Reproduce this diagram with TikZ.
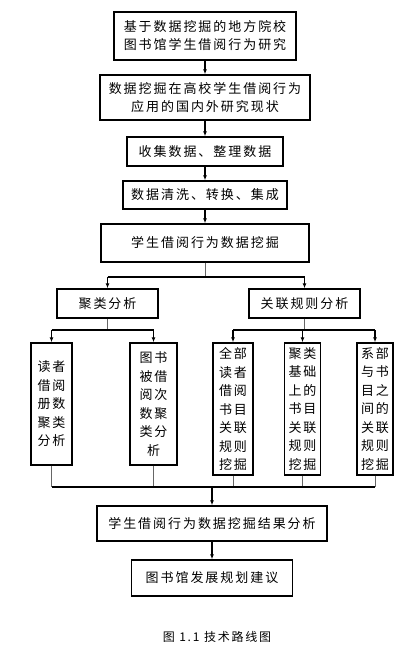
\documentclass[tikz,border=0pt]{standalone}
\usepackage{fontspec}
\newfontfamily\cjk[LetterSpace=15]{Noto Sans CJK SC}
\usepackage{tikz}
\usetikzlibrary{arrows.meta, positioning, calc}
\tikzset{
    rtbox/.style={rectangle, draw=black, line width=1.4pt, fill=white, inner sep=0pt, align=center, font=\cjk\fontsize{13}{18}\selectfont},
    rtcol/.style={rectangle, draw=black, line width=1.4pt, fill=white, inner sep=0pt, align=center, font=\cjk\fontsize{13}{18.5}\selectfont},
    rtarrow/.style={-{Latex[length=5pt,width=4pt]}, line width=1.1pt, draw=black},
    rtbar/.style={line width=1.5pt, draw=black},
    rtdrop/.style={line width=0.8pt, draw=black!60}
}

\begin{document}
\begin{tikzpicture}[x=1pt, y=-1pt]
    \useasboundingbox (0,0) rectangle (415,650);

    % Main chain
    \node[rtbox, minimum width=182pt, minimum height=48pt] (topic) at (205,36) {基于数据挖掘的地方院校\\图书馆学生借阅行为研究};
    \node[rtbox, minimum width=210pt, minimum height=45pt] (status) at (205,97.5) {数据挖掘在高校学生借阅行为\\应用的国内外研究现状};
    \node[rtbox, minimum width=156pt, minimum height=29pt] (collect) at (205,151.5) {收集数据、整理数据};
    \node[rtbox, minimum width=164pt, minimum height=28pt] (clean) at (205,195) {数据清洗、转换、集成};
    \node[rtbox, minimum width=208pt, minimum height=38pt] (mine) at (205,243) {学生借阅行为数据挖掘};

    % Two methods
    \node[rtbox, minimum width=101pt, minimum height=29pt] (clu) at (107.5,303.5) {聚类分析};
    \node[rtbox, minimum width=111pt, minimum height=29pt] (asc) at (304.5,303.5) {关联规则分析};

    % Sub tasks
    \node[rtcol, minimum width=41pt, minimum height=122pt] (rdr) at (51.5,404) {读者\\借阅\\册数\\聚类\\分析};
    \node[rtcol, minimum width=47pt, minimum height=122pt] (book) at (153.5,404) {图书\\被借\\阅次\\数聚\\类分\\析};
    \node[rtcol, minimum width=40pt, minimum height=132pt] (allrule) at (233,409) {全部\\读者\\借阅\\书目\\关联\\规则\\挖掘};
    \node[rtcol, minimum width=36pt, minimum height=132pt] (clurule) at (302.5,409) {聚类\\基础\\上的\\书目\\关联\\规则\\挖掘};
    \node[rtcol, minimum width=36pt, minimum height=132pt] (deprule) at (375,409) {系部\\与书\\目之\\间的\\关联\\规则\\挖掘};

    % Results
    \node[rtbox, minimum width=230pt, minimum height=35pt] (result) at (212,523.5) {学生借阅行为数据挖掘结果分析};
    \node[rtbox, minimum width=161pt, minimum height=36pt] (plan) at (212,578) {图书馆发展规划建议};
    \node[font=\cjk\fontsize{12}{14}\selectfont] (cap) at (217,637) {图 1.1 技术路线图};

    \coordinate (fork1) at (205,277);
    \coordinate (fork2) at (107.5,330);
    \coordinate (fork3) at (304.5,330);
    \coordinate (join) at (212,487);

    % Spine
    \draw[rtarrow] (topic) -- (status);
    \draw[rtarrow] (status) -- (collect);
    \draw[rtarrow] (collect) -- (clean);
    \draw[rtarrow] (clean) -- (mine);

    % Split into methods
    \draw[rtdrop] (mine) -- (fork1);
    \draw[rtbar] (clu.north |- fork1) -- (asc.north |- fork1);
    \draw[rtarrow] (clu.north |- fork1) -- (clu);
    \draw[rtarrow] (asc.north |- fork1) -- (asc);

    % Clustering tasks
    \draw[rtdrop] (clu) -- (fork2);
    \draw[rtbar] (rdr.north |- fork2) -- (book.north |- fork2);
    \draw[rtarrow] (rdr.north |- fork2) -- (rdr);
    \draw[rtarrow] (book.north |- fork2) -- (book);

    % Association tasks
    \draw[rtdrop] (asc) -- (fork3);
    \draw[rtbar] (allrule.north |- fork3) -- (deprule.north |- fork3);
    \draw[rtarrow] (allrule.north |- fork3) -- (allrule);
    \draw[rtarrow] (clurule.north |- fork3) -- (clurule);
    \draw[rtarrow] (deprule.north |- fork3) -- (deprule);

    % Join
    \foreach \t in {rdr, book, allrule, clurule, deprule}
        \draw[rtdrop] (\t) -- (\t.south |- join);
    \draw[rtbar] (rdr.south |- join) -- (deprule.south |- join);
    \draw[rtarrow] (join) -- (result);
    \draw[rtarrow] (result) -- (plan);
\end{tikzpicture}
\end{document}
